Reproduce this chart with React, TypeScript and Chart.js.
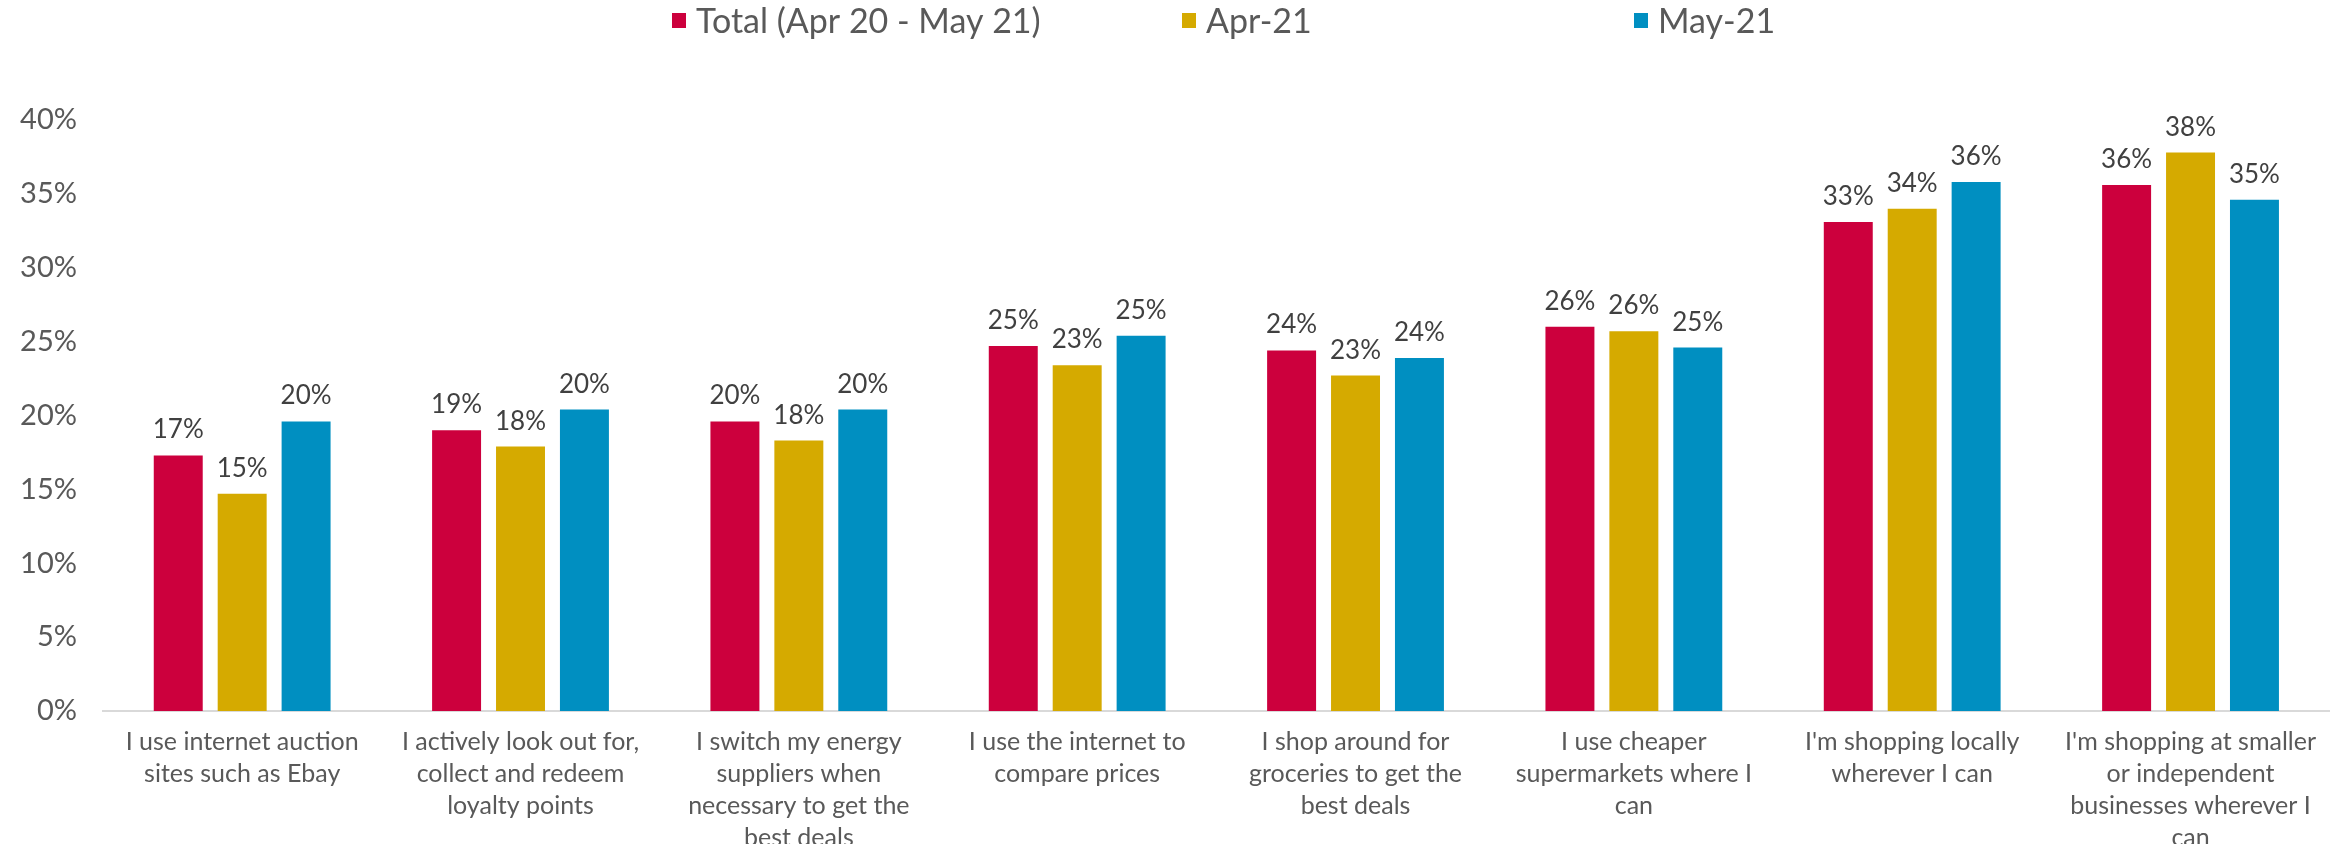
import React, { useEffect, useRef } from "react";
import { Chart, registerables } from "chart.js";

Chart.register(...registerables);

const categories: string[][] = [
  ["I use internet auction", "sites such as Ebay"],
  ["I actively look out for,", "collect and redeem", "loyalty points"],
  ["I switch my energy", "suppliers when", "necessary to get the", "best deals"],
  ["I use the internet to", "compare prices"],
  ["I shop around for", "groceries to get the", "best deals"],
  ["I use cheaper", "supermarkets where I", "can"],
  ["I'm shopping locally", "wherever I can"],
  ["I'm shopping at smaller", "or independent", "businesses wherever I", "can"],
];

const seriesNames = ["Total (Apr 20 - May 21)", "Apr-21", "May-21"];
const totalValues = [17.3, 19.0, 19.6, 24.7, 24.4, 26.0, 33.1, 35.6];
const apr21Values = [14.7, 17.9, 18.3, 23.4, 22.7, 25.7, 34.0, 37.8];
const may21Values = [19.6, 20.4, 20.4, 25.4, 23.9, 24.6, 35.8, 34.6];
const seriesColors = ["#CC003D", "#D5AA00", "#008FC1"];
const yMin = 0;
const yMax = 40;
const yStep = 5;

const FONT = "Lato, 'Open Sans', sans-serif";

const dataLabelPlugin = {
  id: "dataLabels",
  afterDatasetsDraw(chart: any) {
    const ctx = chart.ctx;
    ctx.save();
    ctx.font = `26px ${FONT}`;
    ctx.fillStyle = "#404040";
    ctx.textAlign = "center";
    ctx.textBaseline = "alphabetic";
    chart.data.datasets.forEach((ds: any, i: number) => {
      const meta = chart.getDatasetMeta(i);
      meta.data.forEach((bar: any, j: number) => {
        const v = ds.data[j] as number;
        ctx.fillText(`${Math.round(v)}%`, bar.x, bar.y - 17);
      });
    });
    ctx.restore();
  },
};

const legendSquareX = [672, 1182, 1634];

const legendPlugin = {
  id: "customLegend",
  afterDraw(chart: any) {
    const ctx = chart.ctx;
    ctx.save();
    ctx.font = `34px ${FONT}`;
    ctx.textBaseline = "middle";
    ctx.textAlign = "left";
    chart.data.datasets.forEach((ds: any, i: number) => {
      const x = legendSquareX[i];
      ctx.fillStyle = ds.backgroundColor;
      ctx.fillRect(x, 13, 14, 15);
      ctx.fillStyle = "#595959";
      ctx.fillText(ds.label, x + 24, 22);
    });
    ctx.restore();
  },
};

export default function App() {
  const canvasRef = useRef<HTMLCanvasElement | null>(null);

  useEffect(() => {
    document.body.style.margin = "0";
    const canvas = canvasRef.current;
    if (!canvas) return;
    const chart = new Chart(canvas, {
      type: "bar",
      data: {
        labels: categories,
        datasets: [
          { label: seriesNames[0], data: totalValues, backgroundColor: seriesColors[0] },
          { label: seriesNames[1], data: apr21Values, backgroundColor: seriesColors[1] },
          { label: seriesNames[2], data: may21Values, backgroundColor: seriesColors[2] },
        ],
      },
      options: {
        animation: false,
        responsive: true,
        maintainAspectRatio: false,
        datasets: {
          bar: { barPercentage: 0.766, categoryPercentage: 0.689 },
        },
        layout: { padding: { top: 120, left: 0, right: 0, bottom: 0 } },
        plugins: {
          legend: { display: false },
          tooltip: { enabled: false },
        },
        scales: {
          x: {
            grid: { display: false, drawTicks: false },
            border: { display: true, color: "#D9D9D9", width: 2 },
            ticks: {
              autoSkip: false,
              maxRotation: 0,
              minRotation: 0,
              padding: 15,
              color: "#595959",
              font: { family: FONT, size: 25, lineHeight: 1.28 },
            },
            afterFit(scale: any) {
              scale.height = 133;
            },
          },
          y: {
            min: yMin,
            max: yMax,
            grid: { display: false, drawTicks: false },
            border: { display: false },
            ticks: {
              stepSize: yStep,
              padding: 26,
              color: "#595959",
              font: { family: FONT, size: 29 },
              callback: (v: any) => `${v}%`,
            },
            afterFit(scale: any) {
              scale.width = 103;
            },
          },
        },
      },
      plugins: [dataLabelPlugin, legendPlugin],
    });
    return () => chart.destroy();
  }, []);

  return (
    <div style={{ width: "2331px", height: "844px", position: "relative" }}>
      <canvas ref={canvasRef} style={{ display: "block" }} />
    </div>
  );
}
